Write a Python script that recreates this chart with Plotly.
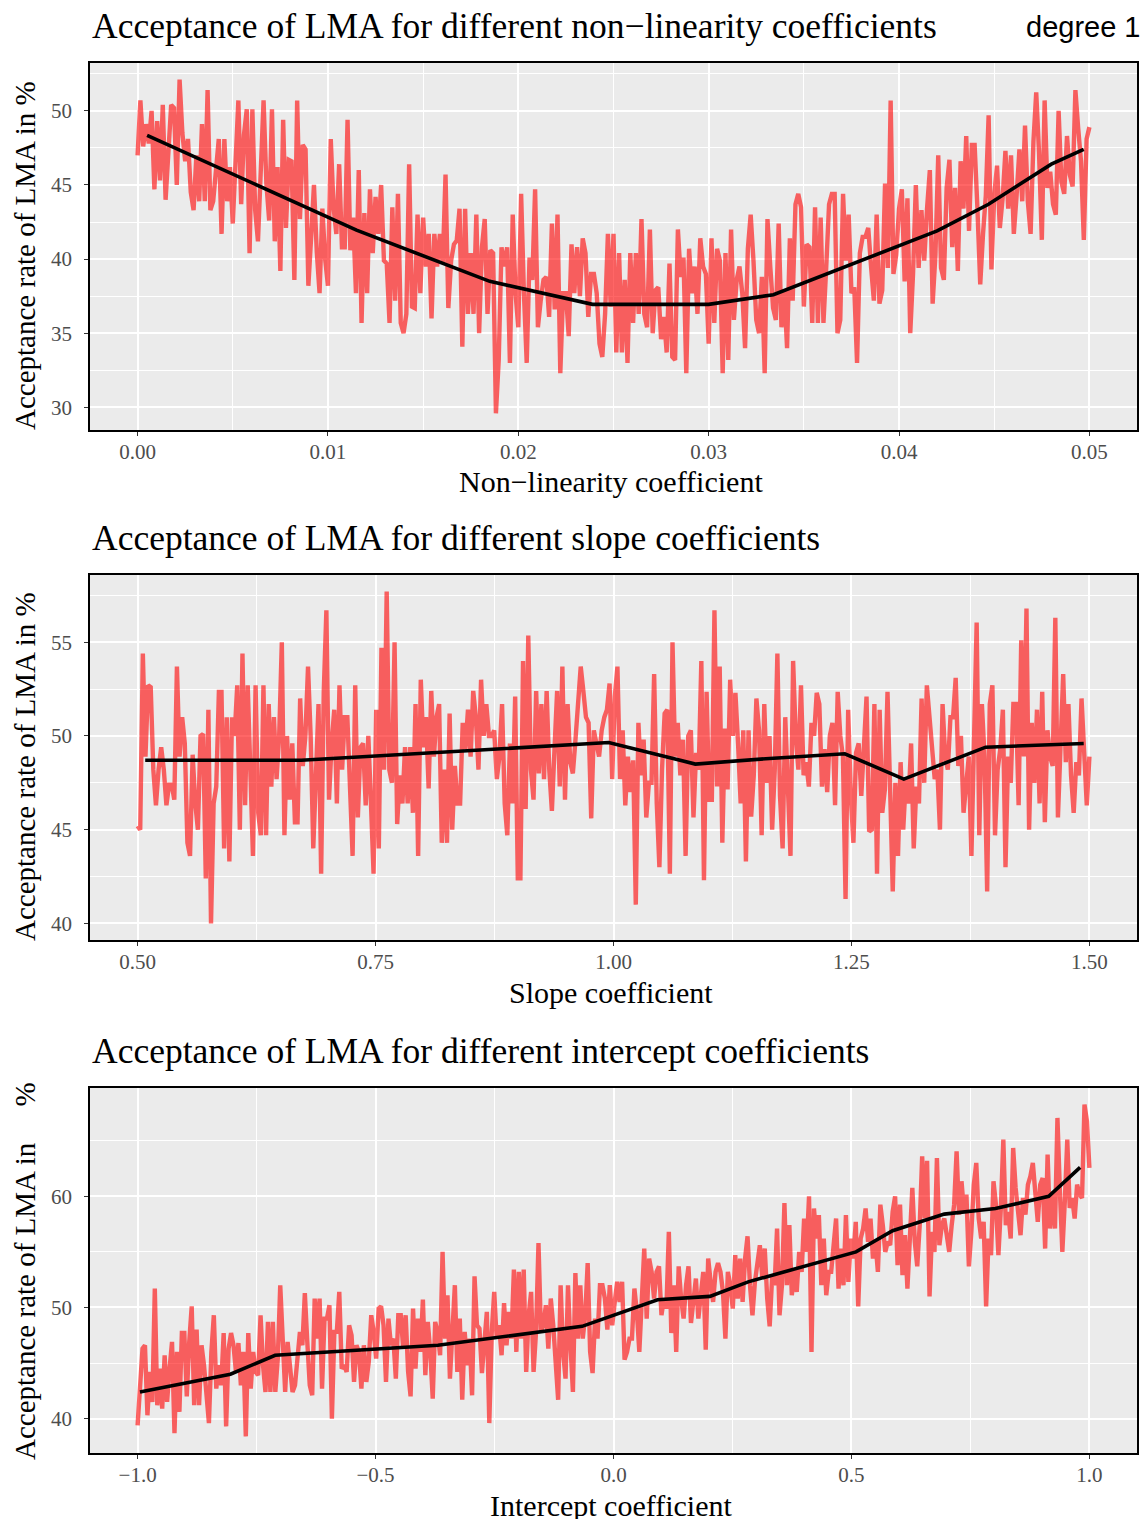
import numpy as np
import plotly.graph_objects as go

W, H = 1140, 1519
SERIF = "Liberation Serif"
SANS = "Liberation Sans"

# ---------------- data ----------------
# Acceptance rate (%) of LMA over a grid of non-linearity coefficients (0 .. 0.05)
nonlin_rate = [
    47.0, 50.7, 47.6, 49.1, 47.8, 50.0, 44.7, 49.3, 45.3, 50.4,
    44.0, 47.8, 50.4, 50.2, 45.0, 52.1, 48.5, 46.6, 48.1, 44.5,
    43.3, 47.0, 43.9, 49.1, 43.9, 51.4, 43.3, 43.9, 46.0, 48.1,
    41.7, 48.1, 43.9, 46.2, 42.4, 46.2, 50.7, 43.7, 48.4, 50.1,
    40.4, 50.1, 43.3, 41.2, 45.7, 50.7, 45.1, 42.6, 50.1, 41.2,
    46.2, 39.2, 49.4, 42.1, 46.7, 46.6, 38.6, 50.7, 42.7, 47.7,
    47.4, 38.2, 41.5, 45.0, 40.5, 37.7, 43.4, 40.0, 38.2, 48.1,
    43.5, 41.7, 46.4, 40.8,
    40.8, 49.4, 40.6, 42.8, 37.7, 46.0, 35.7, 43.1, 37.7, 44.7,
    40.4, 44.2, 41.7, 45.0, 39.9, 39.7, 35.7, 43.5, 37.2, 44.4,
    35.7, 35.0, 36.3, 46.4, 36.8, 36.7, 43.0, 37.7, 42.8, 39.5,
    41.7, 36.0, 41.7, 39.5, 41.7, 39.7, 45.7, 36.7, 39.9, 41.0,
    41.25, 43.4, 34.1, 43.4, 36.3, 40.4, 36.3, 43.0, 35.0, 40.8,
    42.7, 36.3, 40.6, 40.4, 29.6, 33.2, 40.8, 39.5, 40.8, 33.0,
    43.0, 37.7, 35.4, 44.4, 37.7, 33.0, 40.1, 38.6, 44.7, 35.4,
    37.2, 38.6, 38.8, 36.1, 42.4, 36.6, 43.0, 32.3, 37.7, 37.7,
    34.8, 41.0, 37.7, 40.8, 37.5, 41.4, 40.4, 36.1, 39.0, 39.0,
    37.7, 34.3, 33.4, 36.3, 41.7,
    36.8, 41.7, 33.7, 40.4, 33.7, 38.6, 33.0, 40.4, 35.7, 40.4,
    36.3, 42.7, 36.3, 35.4, 42.0, 35.0, 37.9, 38.1, 34.6, 36.1,
    33.7, 39.7, 33.4, 33.2, 42.0, 38.8, 40.1, 32.3, 40.7, 37.7,
    39.5, 36.3, 41.4, 39.5, 39.0, 34.3, 41.4, 35.7, 40.7, 39.9,
    32.3, 40.4, 33.2, 42.0, 35.9, 38.6, 39.5, 37.7, 34.0, 40.7,
    43.0, 39.9, 35.9, 35.0, 38.8, 32.3, 42.7, 39.5, 36.7, 35.9,
    42.4, 35.4, 37.9, 34.0, 41.4, 37.2, 43.7, 44.4, 43.5, 36.8,
    41.0, 40.8, 35.7, 43.5, 35.7, 42.8, 35.7, 39.5, 43.7, 44.4,
    44.4, 35.0, 35.9, 44.4, 39.9, 43.0, 37.7, 38.1, 33.0, 40.4,
    41.5, 41.5, 42.1, 39.5, 37.2, 43.0,
    37.0, 37.9, 45.1, 39.4, 50.7, 39.0, 40.3, 43.4, 44.7, 38.5,
    44.1, 35.0, 39.0, 45.0, 39.4, 43.3, 39.9, 43.4, 46.0, 37.0,
    40.3, 47.0, 39.4, 38.6, 44.8, 46.7, 40.8, 44.8, 39.2, 46.6,
    43.4, 48.3, 41.9, 47.7, 47.7, 43.4, 38.3, 41.7, 44.3, 49.7,
    39.3, 44.3, 46.3, 42.1, 44.1, 47.3, 43.4, 47.0, 41.7, 44.3,
    47.4, 43.9, 49.0, 43.9, 41.7, 47.9, 51.25, 47.2, 41.3, 50.7,
    44.8, 45.9, 43.7, 43.0, 50.0, 45.2, 44.4, 48.3, 45.7, 44.9,
    51.4, 48.8, 46.6, 41.3, 48.1, 48.9,
]
nonlin_trend_x = [0.0005, 0.0055, 0.0115, 0.0185, 0.0239, 0.0300, 0.0334,
                  0.0420, 0.0447, 0.0480, 0.0497]
nonlin_trend_y = [48.35, 45.45, 41.95, 38.5, 36.95, 36.95, 37.6,
                  41.9, 43.7, 46.4, 47.4]

# Acceptance rate (%) of LMA over a grid of slope coefficients (0.5 .. 1.5)
slope_rate = [
    45.2, 45.0, 54.4, 48.9, 52.7, 52.6, 48.2, 46.3, 48.2, 49.4,
    48.2, 46.3, 47.4, 47.4, 46.6, 53.7, 48.9, 51.0, 49.6, 44.3,
    43.6, 49.0, 46.4, 45.0, 50.0, 50.1, 42.4, 51.4, 40.0, 46.4,
    47.3, 52.35, 52.35, 44.0, 51.0, 43.3, 51.0, 50.0, 52.7, 45.0,
    54.4, 46.3, 52.7, 48.6, 43.6, 52.7, 45.9, 44.7, 52.7, 44.7,
    51.7, 47.3, 51.0, 47.7, 50.0, 55.0, 44.7, 50.0, 46.6, 49.6,
    45.4, 45.4, 52.0, 48.4, 50.0, 53.7, 50.0, 44.0, 48.2, 51.7,
    42.65, 52.35, 56.7, 46.6, 49.6, 51.4, 46.4, 52.7, 48.2, 51.0,
    51.0, 47.9, 43.6, 52.7, 45.65, 49.4, 49.6, 46.3, 50.0, 46.4,
    42.65, 51.4, 44.0, 54.7, 48.2, 57.7, 48.2, 47.5, 55.0, 45.3,
    47.9, 46.4, 49.4, 46.4, 49.4, 45.9, 51.7, 43.6, 53.0, 49.4,
    51.0, 47.2, 52.4, 48.9, 51.0, 51.7, 44.3, 48.2, 44.3, 51.2,
    45.0, 48.4, 46.4, 46.4, 50.7, 49.3, 51.4, 48.9, 52.4, 51.0,
    48.2, 53.0, 50.0, 51.7, 50.0, 50.0, 50.3, 47.7, 48.9, 51.7,
    46.4, 44.7, 49.6, 46.4, 52.1, 42.4, 42.4, 54.0, 46.1, 55.35,
    48.2, 46.6, 52.4, 48.0, 51.7, 47.7, 52.4, 48.2, 46.0, 49.3,
    52.4, 47.3, 53.7, 46.6, 51.7, 48.6, 48.0, 49.8, 51.7, 53.7,
    52.4, 51.0, 50.7, 45.6, 50.3, 49.6, 48.9, 50.3, 51.0,
    51.4, 52.8, 47.7, 52.1, 53.7, 47.7, 50.3, 46.3, 48.9, 47.0,
    48.7, 41.0, 50.7, 47.9, 49.8, 45.65, 47.5, 47.5, 53.3, 46.4,
    43.0, 48.2, 51.2, 51.4, 42.65, 55.0, 48.9, 50.7, 47.9, 49.8,
    43.6, 50.0, 50.3, 45.65, 49.1, 48.2, 54.0, 42.3, 52.35, 46.6,
    46.6, 56.7, 47.3, 53.7, 44.3, 50.4, 47.15, 53.0, 50.0, 52.3,
    49.6, 46.4, 50.3, 43.3, 50.3, 45.7, 47.9, 52.0, 50.3, 44.7,
    51.7, 47.5, 50.0, 45.0, 48.2, 54.4, 46.8, 44.0, 51.0, 47.7,
    43.6, 54.0, 50.0, 48.2, 52.7, 47.9, 48.6, 47.3, 50.7, 50.0,
    52.3, 51.7, 47.3, 49.3, 47.0, 50.0, 50.7, 46.3, 52.35, 50.0,
    48.9, 41.3, 51.4, 46.8, 44.3, 49.1, 49.6, 46.8, 49.1, 52.1,
    44.9,
    45.0, 51.7, 42.65, 51.4, 45.9, 47.15, 52.35, 47.15, 41.7, 47.5,
    43.6, 48.6, 45.0, 47.7, 46.4, 49.6, 44.0, 47.3, 46.4, 52.0,
    47.5, 52.7, 51.0, 49.3, 47.7, 48.2, 45.0, 51.7, 48.9, 48.2,
    51.0, 51.0, 53.1, 48.4, 50.0, 45.9, 47.5, 48.9, 43.6, 50.0,
    56.05, 44.7, 51.7, 48.9, 41.7, 51.7, 52.7, 44.7, 48.2, 49.3,
    51.4, 43.0, 48.9, 47.5, 51.7, 51.7, 46.3, 55.1, 48.9, 56.8,
    45.0, 50.7, 47.5, 51.4, 46.4, 52.35, 45.4, 50.3, 48.9, 48.4,
    56.3, 45.65, 49.4, 53.3, 48.6, 51.7, 47.9, 45.9, 48.6, 47.9,
    52.0, 48.9, 46.3, 48.9,
]
slope_trend_x = [0.508, 0.672, 0.86, 0.995, 1.086, 1.164, 1.243, 1.305, 1.391, 1.494]
slope_trend_y = [48.7, 48.7, 49.25, 49.65, 48.5, 48.8, 49.05, 47.7, 49.4, 49.6]

# Acceptance rate (%) of LMA over a grid of intercept coefficients (-1 .. 1)
intercept_rate = [
    39.4, 43.6, 46.3, 46.6, 40.3, 44.2, 41.5, 51.7, 41.2, 44.5,
    40.9, 45.7, 41.5, 44.5, 46.9, 38.7, 46.0, 40.6, 47.7, 47.7,
    42.0, 46.9, 50.1, 41.2, 48.0, 41.2, 46.6, 44.8, 41.8, 39.6,
    46.0, 49.3, 42.7, 44.8, 43.0, 47.7, 39.3, 46.3, 47.7, 46.6,
    44.2, 46.8, 43.0, 46.0, 38.4, 47.7, 42.7, 46.0, 44.2, 43.9,
    49.3, 44.8, 42.4, 48.7, 42.4, 48.7, 42.4, 45.4, 52.0, 47.2,
    42.4, 46.9, 44.2, 42.4, 43.0, 46.0, 47.8, 46.6, 51.3, 46.9,
    43.0, 42.1, 50.8, 47.2, 50.8, 42.7, 49.0, 49.0, 50.2, 40.0,
    47.8, 47.8, 51.4, 44.5, 44.8, 44.2, 48.4, 47.5, 43.3, 46.6,
    46.0,
    42.7, 46.6, 43.3, 45.1, 49.3, 47.8, 45.4, 49.9, 50.1, 48.4,
    43.3, 49.0, 46.6, 47.2, 43.6, 49.3, 49.3, 46.3, 49.3, 44.2,
    42.0, 49.9, 44.5, 49.0, 46.0, 50.7, 43.9, 48.7, 46.0, 41.8,
    48.7, 47.8, 45.7, 55.0, 47.2, 51.1, 43.6, 49.0, 52.0, 44.2,
    49.0, 41.7, 47.8, 44.8, 47.2, 42.1, 52.8, 48.4, 48.1, 44.1,
    46.6, 49.6, 39.6, 47.8, 51.4, 47.2, 48.4, 45.7, 50.4, 46.6,
    49.6, 47.2, 53.4, 46.0, 53.2, 47.2, 53.4, 44.2, 49.3, 51.4,
    44.2, 47.8, 55.8, 47.8, 48.4, 50.2, 46.3, 50.8, 48.4, 45.4,
    41.7, 52.0, 46.0, 43.6, 52.0, 46.6, 42.4, 53.1, 47.2, 52.0,
    47.2, 49.3, 54.0, 46.0, 44.1, 49.0, 47.2, 52.0, 52.0, 50.8,
    48.0, 52.0, 48.4, 50.5,
    52.3, 50.5, 52.3, 45.3, 46.0, 47.2, 47.2, 51.7, 49.6, 46.0,
    50.2, 55.3, 49.0, 54.4, 53.2, 50.8, 53.2, 53.7, 49.3, 50.8,
    49.9, 56.8, 47.7, 52.0, 46.0, 53.7, 50.8, 49.0, 52.0, 53.7,
    48.6, 50.8, 52.6, 49.0, 50.8, 53.2, 46.2, 54.4, 52.3, 50.5,
    53.2, 54.0, 53.2, 51.4, 47.2, 53.2, 52.0, 49.9, 54.7, 50.8,
    54.4, 50.5, 54.4, 56.4, 52.0, 49.3, 52.3, 54.0, 55.6, 52.6,
    55.3, 50.8, 48.3, 52.8, 52.0, 57.1, 49.3, 52.0, 59.4, 52.0,
    57.4, 51.1, 53.5, 51.4, 55.0, 53.2, 58.0, 55.0, 60.0, 46.0,
    58.9, 56.2, 58.3, 52.0, 56.2, 51.1, 53.2, 53.2, 56.2, 58.0,
    51.7, 55.3, 52.0, 58.3, 52.3, 56.2, 54.4, 57.7, 50.1, 56.2,
    57.1, 58.9, 55.9, 58.0,
    54.4, 55.9, 53.2, 59.25, 57.4, 55.0, 55.9, 55.6, 58.6, 60.0,
    53.8, 59.25, 52.9, 56.5, 51.7, 56.2, 60.75, 55.9, 53.7, 57.4,
    63.6, 58.0, 63.2, 51.0, 56.8, 55.0, 63.45, 55.6, 57.4, 58.0,
    56.2, 55.0, 57.4, 59.25, 64.05, 58.35, 61.35, 58.6, 60.15, 53.7,
    56.8, 61.05, 63.0, 58.0, 56.2, 57.7, 50.1, 56.2, 54.7, 61.35,
    59.25, 54.7, 58.95, 65.1, 57.4, 58.6, 56.2, 64.35, 60.75, 58.6,
    56.5, 59.85, 58.35, 61.05, 61.8, 63.0, 60.15, 57.7, 61.05, 61.65,
    55.3, 63.75, 57.1, 60.45, 57.1, 67.05, 60.45, 55.0, 59.55, 65.1,
    58.95, 59.85, 58.0, 61.05, 60.15, 59.85, 68.25, 66.75, 62.55,
]
intercept_trend_x = [-0.995, -0.805, -0.711, -0.369, -0.066, 0.0925, 0.2025,
                     0.283, 0.5096, 0.5865, 0.695, 0.8025, 0.9145, 0.9805]
intercept_trend_y = [42.4, 44.0, 45.7, 46.6, 48.3, 50.7, 51.0,
                     52.3, 55.0, 56.9, 58.4, 58.9, 60.0, 62.6]

nonlin_coef = np.linspace(0.0, 0.05, len(nonlin_rate))
slope_coef = np.linspace(0.5, 1.5, len(slope_rate))
intercept_coef = np.linspace(-1.0, 1.0, len(intercept_rate))

# tick breaks and labels
nonlin_xticks = [0.0, 0.01, 0.02, 0.03, 0.04, 0.05]
nonlin_xlabels = ["0.00", "0.01", "0.02", "0.03", "0.04", "0.05"]
nonlin_xminor = [0.005, 0.015, 0.025, 0.035, 0.045]
nonlin_yticks = [30, 35, 40, 45, 50]
nonlin_yminor = [32.5, 37.5, 42.5, 47.5, 52.5]

slope_xticks = [0.5, 0.75, 1.0, 1.25, 1.5]
slope_xlabels = ["0.50", "0.75", "1.00", "1.25", "1.50"]
slope_xminor = [0.625, 0.875, 1.125, 1.375]
slope_yticks = [40, 45, 50, 55]
slope_yminor = [42.5, 47.5, 52.5, 57.5]

intercept_xticks = [-1.0, -0.5, 0.0, 0.5, 1.0]
intercept_xlabels = ["\u22121.0", "\u22120.5", "0.0", "0.5", "1.0"]
intercept_xminor = [-0.75, -0.25, 0.25, 0.75]
intercept_yticks = [40, 50, 60]
intercept_yminor = [45, 55, 65]

YTITLE = "Acceptance rate of LMA in %"

panels = [
    dict(x=nonlin_coef, y=nonlin_rate, tx=nonlin_trend_x, ty=nonlin_trend_y,
         xt=nonlin_xticks, xl=nonlin_xlabels, xm=nonlin_xminor,
         yt=nonlin_yticks, ym=nonlin_yminor,
         title="Acceptance of LMA for different non\u2212linearity coefficients",
         xtitle="Non\u2212linearity coefficient", ytitle=YTITLE,
         top=63, bottom=430, title_y=26, xtitle_y=482, ytitle_y=256),
    dict(x=slope_coef, y=slope_rate, tx=slope_trend_x, ty=slope_trend_y,
         xt=slope_xticks, xl=slope_xlabels, xm=slope_xminor,
         yt=slope_yticks, ym=slope_yminor,
         title="Acceptance of LMA for different slope coefficients",
         xtitle="Slope coefficient", ytitle=YTITLE,
         top=575, bottom=940, title_y=538, xtitle_y=993, ytitle_y=767),
    dict(x=intercept_coef, y=intercept_rate, tx=intercept_trend_x, ty=intercept_trend_y,
         xt=intercept_xticks, xl=intercept_xlabels, xm=intercept_xminor,
         yt=intercept_yticks, ym=intercept_yminor,
         title="Acceptance of LMA for different intercept coefficients",
         xtitle="Intercept coefficient",
         ytitle="Acceptance rate of LMA in" + "\u00a0" * 5 + "%",
         top=1088, bottom=1453, title_y=1051, xtitle_y=1505, ytitle_y=1271),
]

LEFT, RIGHT = 90, 1137


def fx(p):
    return p / W


def fy(p):
    return 1 - p / H


def expand(vals, mult=0.05):
    lo, hi = float(np.min(vals)), float(np.max(vals))
    pad = (hi - lo) * mult
    return [lo - pad, hi + pad]


fig = go.Figure()
annotations = []
layout_axes = {}

for i, p in enumerate(panels, start=1):
    sfx = "" if i == 1 else str(i)
    xa, ya = "x" + sfx, "y" + sfx
    fig.add_trace(go.Scatter(
        x=p["x"], y=p["y"], mode="lines", xaxis=xa, yaxis=ya,
        line=dict(color="rgba(255,0,0,0.6)", width=4.4),
        hoverinfo="skip", showlegend=False))
    fig.add_trace(go.Scatter(
        x=p["tx"], y=p["ty"], mode="lines", xaxis=xa, yaxis=ya,
        line=dict(color="black", width=3.6),
        hoverinfo="skip", showlegend=False))

    common = dict(
        showline=True, mirror=True, linecolor="black", linewidth=1.6,
        ticks="outside", ticklen=4, tickwidth=1.1, tickcolor="#333333",
        showgrid=True, gridcolor="white", gridwidth=1.7,
        zeroline=False, automargin=False,
        tickfont=dict(family=SERIF, size=21, color="#4D4D4D"),
    )
    layout_axes["xaxis" + sfx] = dict(
        common, domain=[fx(LEFT), fx(RIGHT)], anchor=ya,
        range=expand(p["x"]), tickmode="array", tickvals=p["xt"], ticktext=p["xl"],
        minor=dict(tickmode="array", tickvals=p["xm"], showgrid=True,
                   gridcolor="white", gridwidth=0.8, ticks=""),
        ticklabelstandoff=-2,
    )
    layout_axes["yaxis" + sfx] = dict(
        common, domain=[fy(p["bottom"]), fy(p["top"])], anchor=xa,
        range=expand(p["y"]), tickmode="array", tickvals=p["yt"],
        ticktext=[str(v) for v in p["yt"]],
        minor=dict(tickmode="array", tickvals=p["ym"], showgrid=True,
                   gridcolor="white", gridwidth=0.8, ticks=""),
        ticklabelstandoff=8,
    )

    annotations.append(dict(
        text=p["title"], x=fx(LEFT), y=fy(p["title_y"]), xref="paper", yref="paper",
        xanchor="left", yanchor="middle", showarrow=False,
        font=dict(family=SERIF, size=35.5, color="black")))
    annotations.append(dict(
        text=p["xtitle"], x=fx(611), y=fy(p["xtitle_y"]), xref="paper", yref="paper",
        xanchor="center", yanchor="middle", showarrow=False,
        font=dict(family=SERIF, size=30, color="black")))
    annotations.append(dict(
        text=p["ytitle"], x=fx(25), y=fy(p["ytitle_y"]), xref="paper", yref="paper",
        xanchor="center", yanchor="middle", showarrow=False, textangle=-90,
        font=dict(family=SERIF, size=29, color="black")))

annotations.append(dict(
    text="degree 1", x=fx(1024), y=fy(27), xref="paper", yref="paper",
    xanchor="left", yanchor="middle", showarrow=False,
    font=dict(family=SANS, size=29, color="black")))

fig.update_layout(
    width=W, height=H,
    margin=dict(l=0, r=0, t=0, b=0),
    paper_bgcolor="white", plot_bgcolor="#EBEBEB",
    annotations=annotations,
    **layout_axes,
)

fig.write_html("out.html", config={"displayModeBar": False})
